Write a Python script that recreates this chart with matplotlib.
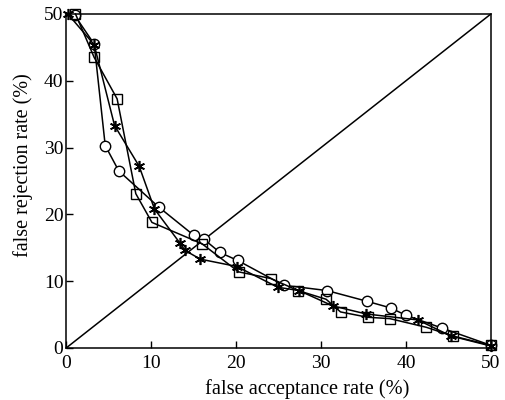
import matplotlib
matplotlib.use('Agg')
import matplotlib.pyplot as plt

circ_x = [1.0, 3.3, 4.6, 6.2, 10.9, 15.0, 16.2, 18.1, 20.2, 25.6, 30.7, 35.4, 38.2, 40.0, 44.2, 50.0]
circ_y = [49.8, 45.5, 30.3, 26.5, 21.1, 16.9, 16.3, 14.3, 13.1, 9.4, 8.6, 7.0, 6.0, 4.9, 3.0, 0.4]

star_x = [0.2, 3.3, 5.7, 8.6, 10.4, 13.4, 14.0, 15.8, 20.1, 24.9, 27.4, 31.4, 35.3, 41.4, 45.3, 50.0]
star_y = [50.0, 45.4, 33.3, 27.2, 20.8, 15.7, 14.6, 13.3, 12.2, 9.1, 8.6, 6.3, 5.1, 4.2, 1.8, 0.3]

sq_x = [1.1, 3.3, 6.0, 8.2, 10.1, 16.0, 20.3, 24.1, 27.3, 30.6, 32.3, 35.5, 38.1, 42.4, 45.5, 50.0]
sq_y = [50.0, 43.5, 37.3, 23.1, 18.8, 15.6, 11.4, 10.4, 8.6, 7.3, 5.4, 4.6, 4.4, 3.1, 1.8, 0.4]

eer_line = [0, 50]
ticks = [0, 10, 20, 30, 40, 50]

plt.rcParams['font.family'] = ['Liberation Serif', 'DejaVu Serif']

fig = plt.figure(figsize=(5.05, 4.0), dpi=100)
ax = fig.add_axes([0.131, 0.13, 0.841, 0.835])

ax.plot(eer_line, eer_line, color='black', lw=1.1)
ax.plot(circ_x, circ_y, color='black', lw=1.1, marker='o', ms=7.5,
        mfc='white', mec='black', mew=1.0, clip_on=False)
ax.plot(star_x, star_y, color='black', lw=1.1, marker=(6, 2, 0), ms=8,
        mec='black', mew=1.2, clip_on=False)
ax.plot(sq_x, sq_y, color='black', lw=1.1, marker='s', ms=7.5,
        mfc='none', mec='black', mew=1.0, clip_on=False)

ax.set_xlim(0, 50)
ax.set_ylim(0, 50)
ax.set_xticks(ticks)
ax.set_yticks(ticks)
ax.tick_params(direction='in', length=5, width=1, labelsize=14)
ax.tick_params(axis='x', pad=5)
ax.tick_params(axis='y', pad=2)
for s in ax.spines.values():
    s.set_linewidth(1.1)

ax.set_xlabel('false acceptance rate (%)', fontsize=14.7)
ax.set_ylabel('false rejection rate (%)', fontsize=14.5)
ax.xaxis.set_label_coords(0.568, -0.094)
ax.yaxis.set_label_coords(-0.078, 0.548)

fig.savefig('out.png', dpi=100)
